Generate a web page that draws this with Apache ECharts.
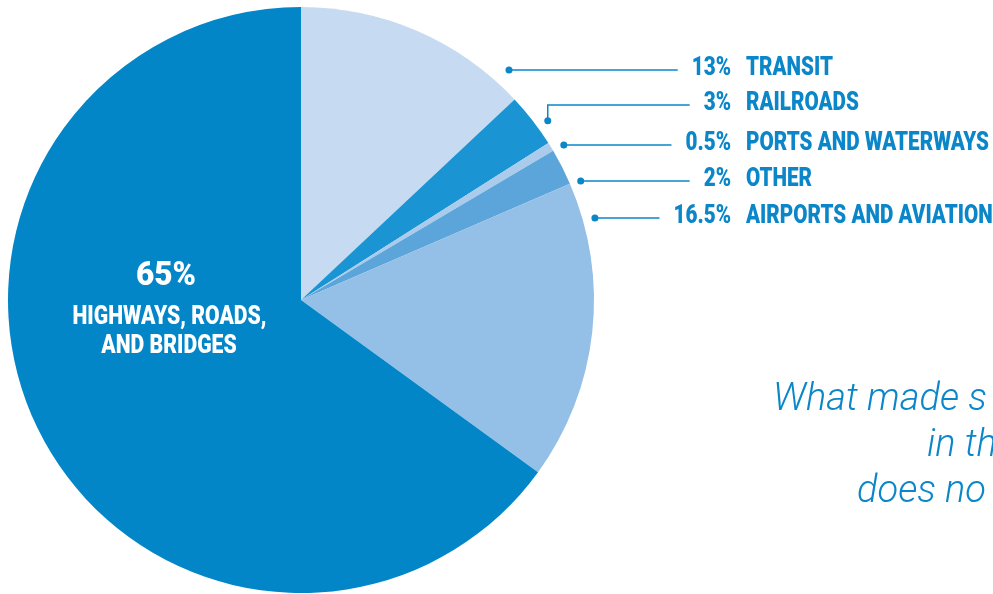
<!DOCTYPE html>
<html>
<head>
<meta charset="utf-8">
<script src="https://cdn.jsdelivr.net/npm/echarts@6/dist/echarts.min.js"></script>
<style>
  html, body { margin: 0; padding: 0; background: #fff; }
  #chart { width: 993px; height: 594px; }
</style>
</head>
<body>
<div id="chart"></div>
<script>
const categories = ['TRANSIT', 'RAILROADS', 'PORTS AND WATERWAYS', 'OTHER', 'AIRPORTS AND AVIATION', 'HIGHWAYS, ROADS, AND BRIDGES'];
const shares = [13, 3, 0.5, 2, 16.5, 65];
const shareLabels = ['13%', '3%', '0.5%', '2%', '16.5%', '65%'];
const sliceColors = ['#c6daf1', '#1a94d3', '#aacbeb', '#5ca5da', '#94bfe6', '#0386c8'];
const bigLabelLines = ['HIGHWAYS, ROADS,', 'AND BRIDGES'];
const captionLines = ['What made s', 'in th', 'does no'];

const blue = '#0a86c9';
const cx = 301, cy = 300, R = 293;
// the condensed headline face is faked by squeezing heavy Roboto
const boldFont = size => '900 ' + size + 'px Roboto, "DejaVu Sans", sans-serif';
const labelSize = 25.5, labelSqueeze = 0.81;
// label rows on the right, leader dot angles (deg clockwise from 12 o'clock)
const rowY = [70, 105, 145, 181, 218];
const dotAngle = [43, 54, 59.5, 66.5, 74.5];
const pctRight = 731, nameLeft = 746;

const ctx = document.createElement('canvas').getContext('2d');
ctx.font = boldFont(labelSize);

function dotPos(i) {
  const a = dotAngle[i] * Math.PI / 180, r = R + 12;
  let x = cx + r * Math.sin(a), y = cy - r * Math.cos(a);
  if (Math.abs(y - rowY[i]) < 8) y = rowY[i];
  return [x, y];
}

function squeezedText(text, x, y, size, sx, align, fill) {
  return {
    type: 'text', x: x, y: y, scaleX: sx, z: 100,
    style: { text: text, fill: fill, font: boldFont(size), align: align, verticalAlign: 'middle' }
  };
}

const myChart = echarts.init(document.getElementById('chart'));

const pieData = categories.map((name, i) => ({
  name: name,
  value: shares[i],
  itemStyle: { color: sliceColors[i] }
}));

const labels = [];
rowY.forEach((y, i) => {
  const d = dotPos(i);
  const pw = ctx.measureText(shareLabels[i]).width * labelSqueeze;
  const end = pctRight - pw - 14;
  labels.push({ type: 'polyline', z: 90, shape: { points: [d, [d[0], y], [end, y]] }, style: { stroke: blue, lineWidth: 1.5, fill: null } });
  labels.push({ type: 'circle', z: 95, shape: { cx: d[0], cy: d[1], r: 3.5 }, style: { fill: blue } });
  labels.push(squeezedText(shareLabels[i], pctRight, y - 1.5, labelSize, labelSqueeze, 'right', blue));
  labels.push(squeezedText(categories[i], nameLeft, y - 1.5, labelSize, labelSqueeze, 'left', blue));
});

// centre label inside the big slice
labels.push(squeezedText(shareLabels[5], 166, 276, 34, 0.93, 'center', '#fff'));
labels.push(squeezedText(bigLabelLines[0], 169.5, 317.5, 25.5, 0.83, 'center', '#fff'));
labels.push(squeezedText(bigLabelLines[1], 169, 347, 25.5, 0.83, 'center', '#fff'));

const caption = captionLines.map((t, i) => ({
  type: 'text',
  x: [773, 927, 857][i],
  y: [400, 446, 492][i],
  style: {
    text: t,
    fill: blue,
    font: 'italic 300 38px Roboto, "Liberation Sans", sans-serif',
    verticalAlign: 'middle'
  }
}));

const option = {
  animation: false,
  graphic: labels.concat(caption),
  series: [
    {
      type: 'pie',
      center: [cx, cy],
      radius: R,
      startAngle: 90,
      clockwise: true,
      data: pieData,
      label: { show: false },
      labelLine: { show: false },
      emphasis: { disabled: true }
    }
  ]
};

option && myChart.setOption(option);
</script>
</body>
</html>
